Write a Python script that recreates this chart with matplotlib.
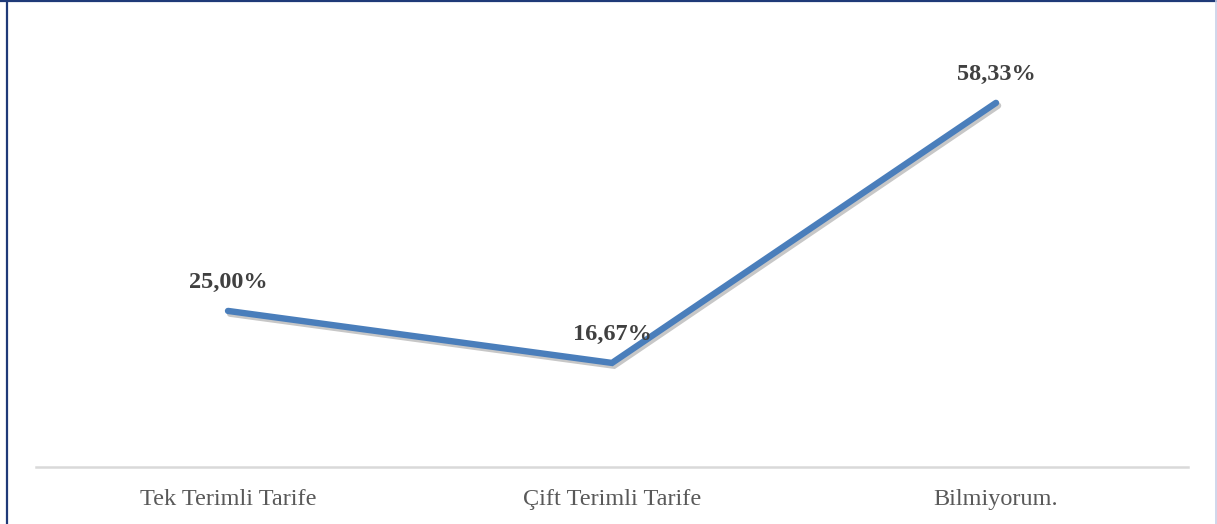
import matplotlib
matplotlib.use("Agg")
import matplotlib.pyplot as plt
from matplotlib.lines import Line2D
import matplotlib.patheffects as pe

categories = ["Tek Terimli Tarife", "Çift Terimli Tarife", "Bilmiyorum."]
values = [25.00, 16.67, 58.33]
labels = ["25,00%", "16,67%", "58,33%"]

W, H = 1217, 524
fig = plt.figure(figsize=(W / 100, H / 100), dpi=100)
# axes: x from 36 to 1188 px, y from 30 (top) to 467 (bottom)
ax = fig.add_axes([36 / W, (H - 467) / H, (1188 - 36) / W, (467 - 30) / H])

x = list(range(len(categories)))
ax.plot(x, values, color="#4A7EBB", lw=4.6, solid_capstyle="round",
        solid_joinstyle="miter",
        path_effects=[pe.SimpleLineShadow(offset=(1.5, -2.0), shadow_color="#000000", alpha=0.22),
                      pe.Normal()])
ax.set_xlim(-0.5, len(categories) - 0.5)
ax.set_ylim(0, 70)

serif = ["Liberation Serif", "DejaVu Serif"]
for xi, v, lab in zip(x, values, labels):
    ax.annotate(lab, (xi, v), xytext=(0, 20.5), textcoords="offset points",
                ha="center", va="center", fontsize=17.5, fontweight="bold",
                color="#404040", family=serif)

for s in ["top", "right", "left"]:
    ax.spines[s].set_visible(False)
ax.spines["bottom"].set_color("#D9D9D9")
ax.spines["bottom"].set_linewidth(1.8)
ax.set_yticks([])
ax.set_xticks(x)
ax.set_xticklabels(categories, family=serif, fontsize=17.5, color="#595959")
ax.tick_params(axis="x", length=0, pad=15.5)

# figure border
fig.add_artist(Line2D([0, 1], [1 - 1 / H, 1 - 1 / H], transform=fig.transFigure,
                      color="#1F3A78", lw=1.6))
fig.add_artist(Line2D([6.5 / W, 6.5 / W], [0, 1], transform=fig.transFigure,
                      color="#1F3A78", lw=1.6))
fig.add_artist(Line2D([1215.5 / W, 1215.5 / W], [0, 1], transform=fig.transFigure,
                      color="#C8D0E8", lw=1.2))

fig.savefig("out.png", dpi=100)
